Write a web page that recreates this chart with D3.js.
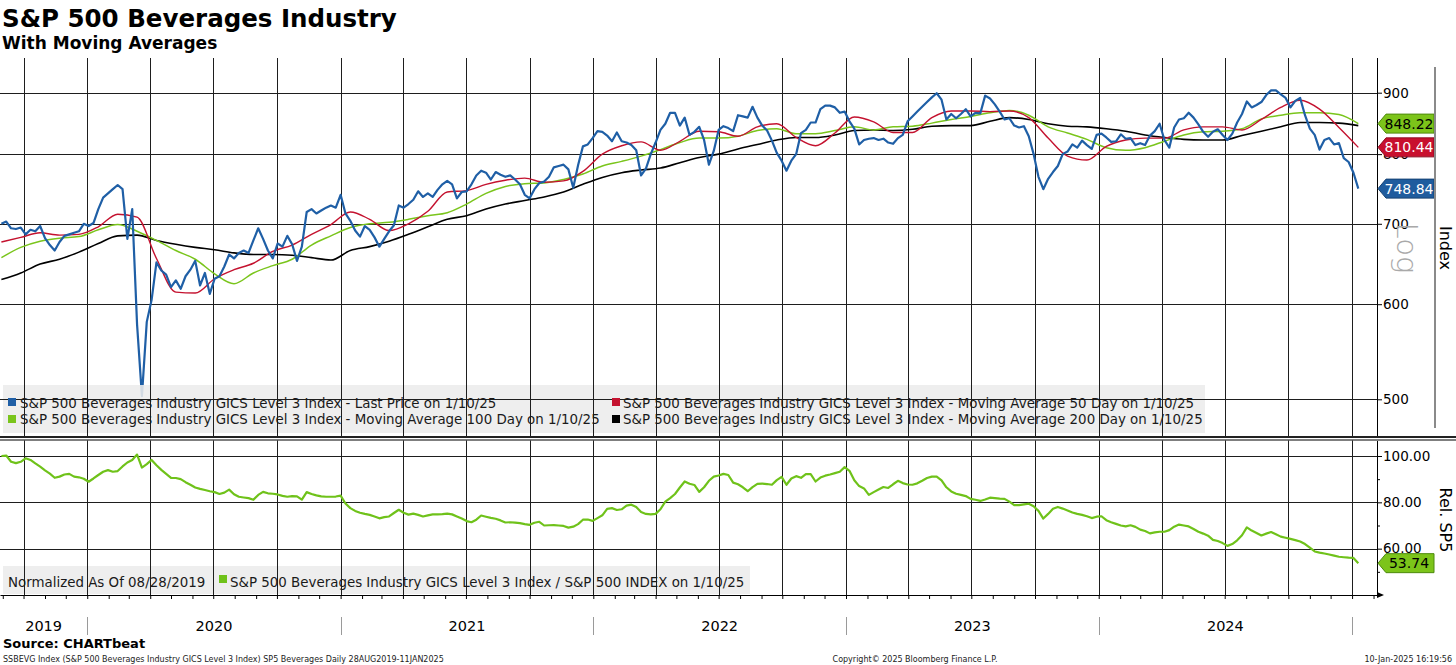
<!DOCTYPE html>
<html lang="en">
<head>
<meta charset="UTF-8">
<title>S&amp;P 500 Beverages Industry</title>
<script src="https://cdn.jsdelivr.net/npm/d3@7"></script>
<style>
  body { margin: 0; background: #fff; }
  svg { display: block; font-family: "DejaVu Sans", Verdana, sans-serif; }
</style>
</head>
<body>
<svg width="1456" height="665"></svg>
<script>
// weekly closes (Fridays) 30 Aug 2019 .. 10 Jan 2025
const price = [
  700,703,694,693,695,686,692,690,697,681,
  672,665,676,684,686,688,690,700,697,701,
  720,736,742,748,754,748,680,720,577,503,
  580,605,650,640,635,620,628,618,633,641,
  652,622,637,612,630,633,645,660,655,662,
  665,662,678,694,680,665,655,674,670,684,
  673,652,670,716,720,714,718,722,725,722,
  740,714,704,691,683,697,692,682,670,680,
  690,698,725,722,727,733,745,737,742,737,
  747,755,760,755,735,744,745,755,768,775,
  772,762,773,769,766,768,762,755,740,735,
  748,757,759,766,780,782,784,777,750,783,
  812,815,825,836,835,829,820,834,820,818,
  814,806,768,778,800,818,838,848,866,866,
  845,858,830,835,843,822,784,805,838,844,
  841,836,862,860,858,876,858,845,837,821,
  802,790,775,790,800,833,838,850,850,872,
  878,878,875,866,868,852,840,815,822,824,
  825,822,824,818,816,825,830,852,860,868,
  876,884,892,899,888,855,864,857,864,872,
  860,866,865,895,890,880,868,855,857,845,
  842,844,828,800,766,748,763,773,782,800,
  804,815,810,821,814,808,830,832,826,819,
  820,831,824,825,814,817,814,829,836,848,
  822,810,842,855,857,866,858,847,835,827,
  835,839,830,822,832,850,864,885,875,879,
  884,896,904,904,897,891,875,886,891,862,
  840,830,807,822,825,815,817,794,788,772,
  748.84
];

// moving averages, every 4th week
const ma50 = [
  676,682,688,685,686,696,713,709,655,614,
  613,630,641,649,664,672,686,699,716,706,
  691,700,717,744,746,755,761,764,758,760,
  774,800,813,819,806,820,836,835,828,843,
  848,826,813,833,859,851,834,834,858,869,
  869,868,869,858,825,797,791,812,822,825,
  825,838,843,843,838,855,875,887,872,842,
  810.44
];
const ma100 = [
  656,669,677,681,683,692,699,690,678,665,
  654,636,624,637,646,654,672,684,695,700,
  702,706,711,715,727,742,752,756,757,762,
  770,782,789,797,807,818,825,825,828,837,
  840,832,832,837,843,838,843,844,849,855,
  860,866,870,862,843,833,823,810,806,810,
  820,830,835,836,840,856,862,866,866,863,
  848.22
];
const ma200 = [
  629,637,648,654,663,674,684,685,678,673,
  669,666,662,660,660,659,656,653,665,670,
  677,686,696,706,711,720,727,732,737,744,
  755,765,772,776,779,787,795,800,808,815,
  822,826,826,830,837,838,837,839,844,845,
  845,852,858,855,848,844,843,840,836,830,
  826,823,822,822,829,836,843,850,850,849,
  845
];

// relative to S&P 500, normalized 28 Aug 2019 = 100, weekly
const relSP5 = [
  100.0,100.2,97.5,96.9,97.5,99.0,98.3,96.8,95.4,93.8,
  92.4,90.6,91.1,92.0,92.3,91.1,90.8,90.2,88.9,90.3,
  91.8,93.2,93.9,93.2,93.5,95.5,97.2,98.3,100.6,95.0,
  96.5,98.3,96.0,94.0,92.3,90.6,90.5,90.0,88.7,87.6,
  86.4,85.8,85.3,84.8,84.4,83.6,84.2,85.5,83.5,82.4,
  82.1,81.8,81.1,83.2,84.5,83.9,83.7,83.4,82.8,82.4,
  82.7,82.6,81.2,84.4,83.6,83.0,82.6,82.4,82.4,82.5,
  82.9,79.5,77.5,76.3,75.5,75.0,74.6,73.9,73.1,73.6,
  73.9,75.4,76.8,75.5,74.7,75.1,74.6,73.9,74.4,74.8,
  74.8,74.9,75.1,74.8,73.9,73.0,71.9,71.4,72.5,74.3,
  73.8,73.3,72.9,72.2,71.3,71.4,71.2,71.0,70.6,70.3,
  71.2,71.6,70.0,70.1,70.2,70.0,69.8,69.1,69.5,70.6,
  72.5,72.6,72.0,73.2,74.4,77.2,77.5,76.7,77.0,78.6,
  79.0,78.0,75.8,75.0,74.8,75.0,77.0,80.3,81.8,83.6,
  86.4,89.0,88.0,87.5,84.5,86.5,89.3,91.1,91.6,92.3,
  91.8,88.5,87.8,86.5,84.8,86.6,88.0,88.1,87.9,87.6,
  89.6,91.0,87.6,90.3,91.3,90.6,92.2,92.2,89.0,90.7,
  91.5,92.0,92.6,93.2,95.2,93.6,89.5,87.0,86.0,83.2,
  84.4,85.5,86.6,86.2,87.8,89.3,88.3,87.7,87.6,88.2,
  89.3,90.5,91.1,91.1,89.5,86.5,84.7,83.7,83.2,82.7,
  81.5,81.1,80.6,81.2,82.0,81.8,81.6,81.5,80.3,78.8,
  78.8,79.1,79.4,78.3,76.3,73.0,75.0,77.2,78.0,77.3,
  76.5,75.6,75.0,74.6,74.0,73.2,73.8,74.0,72.3,71.4,
  70.7,70.0,69.6,70.1,69.4,68.2,67.6,66.6,67.0,67.3,
  67.3,68.0,69.5,70.4,70.0,69.6,68.5,67.3,66.5,65.6,
  63.8,63.3,62.4,61.2,62.0,63.6,65.8,69.2,67.8,66.8,
  65.7,66.5,67.2,66.2,65.2,64.7,64.2,63.7,63.1,62.0,
  60.4,58.8,58.3,57.9,57.5,57.0,56.5,56.3,56.1,56.0,
  53.74
];

const priceTicks = [500, 600, 700, 800, 900];
const relTicks = [60, 80, 100];
const relMinor = [50, 70, 90];

const legendTop = [
  "S&P 500 Beverages Industry GICS Level 3 Index - Last Price on 1/10/25",
  "S&P 500 Beverages Industry GICS Level 3 Index - Moving Average 50 Day on 1/10/25",
  "S&P 500 Beverages Industry GICS Level 3 Index - Moving Average 100 Day on 1/10/25",
  "S&P 500 Beverages Industry GICS Level 3 Index - Moving Average 200 Day on 1/10/25"
];
const legendBot = "S&P 500 Beverages Industry GICS Level 3 Index / S&P 500 INDEX on 1/10/25";

const BLUE = "#1f5fa6", RED = "#c4122f", GREEN = "#7ac51c", BLACK = "#000", RELG = "#6fc21a";

const svg = d3.select("svg");
const plotR = 1377, topY0 = 58, topY1 = 437, botY0 = 440, botY1 = 595;

const x = d3.scaleTime().domain([new Date(2019, 7, 28), new Date(2025, 1, 6)]).range([0, plotR]);
const yTop = d3.scaleLog().domain([500, 900]).range([399.3, 92.7]);
const yBot = d3.scaleLinear().domain([40, 100]).range([botY1, 456]);

const weeks = d3.timeFriday.range(new Date(2019, 7, 30), new Date(2025, 0, 11));
const every4 = weeks.filter((d, i) => i % 4 === 0);

const defs = svg.append("defs");
defs.append("clipPath").attr("id", "clipTop").append("rect")
  .attr("x", 0).attr("y", topY0).attr("width", plotR).attr("height", topY1 - topY0);
defs.append("clipPath").attr("id", "clipBot").append("rect")
  .attr("x", 0).attr("y", botY0).attr("width", plotR).attr("height", botY1 - botY0);

// legend boxes
const legTopBox = {x: 3, y: 385, w: 1202, h: 48};
const legBotBox = {x: 3, y: 566, w: 747, h: 28};
const legClip = defs.append("clipPath").attr("id", "clipLeg");
[legTopBox, legBotBox].forEach(b => legClip.append("rect")
  .attr("x", b.x).attr("y", b.y).attr("width", b.w).attr("height", b.h));

const quarters = d3.timeMonth.every(3).range(x.domain()[0], x.domain()[1]);
const px = v => Math.round(v) + 0.5;

function grid(g) {
  g.selectAll("line.vt").data(quarters).join("line").attr("class", "vt")
    .attr("x1", d => px(x(d))).attr("x2", d => px(x(d)))
    .attr("y1", topY0).attr("y2", topY1);
  g.selectAll("line.vb").data(quarters).join("line").attr("class", "vb")
    .attr("x1", d => px(x(d))).attr("x2", d => px(x(d)))
    .attr("y1", botY0).attr("y2", botY1);
  g.selectAll("line.ht").data(priceTicks).join("line").attr("class", "ht")
    .attr("x1", 0).attr("x2", plotR)
    .attr("y1", d => px(yTop(d))).attr("y2", d => px(yTop(d)));
  g.selectAll("line.hb").data(relTicks).join("line").attr("class", "hb")
    .attr("x1", 0).attr("x2", plotR)
    .attr("y1", d => px(yBot(d))).attr("y2", d => px(yBot(d)));
  g.selectAll("line").attr("stroke", "#1e1e1e").attr("stroke-width", 1);
}

grid(svg.append("g"));

// series
const lineTop = d3.line().x(d => x(d[0])).y(d => yTop(d[1]));
const lineTopSmooth = d3.line().curve(d3.curveMonotoneX).x(d => x(d[0])).y(d => yTop(d[1]));
const lineBot = d3.line().x(d => x(d[0])).y(d => yBot(d[1]));

const gTop = svg.append("g").attr("clip-path", "url(#clipTop)");
const zip = (dates, vals) => vals.map((v, i) => [dates[i], v]);

gTop.append("path").datum(zip(every4, ma200)).attr("d", lineTopSmooth)
  .attr("fill", "none").attr("stroke", BLACK).attr("stroke-width", 1.6);
gTop.append("path").datum(zip(every4, ma100)).attr("d", lineTopSmooth)
  .attr("fill", "none").attr("stroke", GREEN).attr("stroke-width", 1.5);
gTop.append("path").datum(zip(every4, ma50)).attr("d", lineTopSmooth)
  .attr("fill", "none").attr("stroke", RED).attr("stroke-width", 1.4);
gTop.append("path").datum(zip(weeks, price)).attr("d", lineTop)
  .attr("fill", "none").attr("stroke", BLUE).attr("stroke-width", 2.2)
  .attr("stroke-linejoin", "round");

svg.append("g").attr("clip-path", "url(#clipBot)")
  .append("path").datum(zip(weeks, relSP5)).attr("d", lineBot)
  .attr("fill", "none").attr("stroke", RELG).attr("stroke-width", 2.2)
  .attr("stroke-linejoin", "round");

// legend backgrounds, then grid again through them
[legTopBox, legBotBox].forEach(b => svg.append("rect")
  .attr("x", b.x).attr("y", b.y).attr("width", b.w).attr("height", b.h)
  .attr("fill", "#ececec").attr("opacity", 0.88));
grid(svg.append("g").attr("clip-path", "url(#clipLeg)"));

const legCols = [[8, 20], [612, 623]];
const legRows = [[398, 407.5], [415, 424]];
const legColors = [BLUE, RED, GREEN, BLACK];
legendTop.forEach((t, i) => {
  const c = legCols[i % 2], r = legRows[Math.floor(i / 2)];
  svg.append("rect").attr("x", c[0]).attr("y", r[0]).attr("width", 8).attr("height", 8)
    .attr("fill", legColors[i]);
  svg.append("text").attr("x", c[1]).attr("y", r[1]).attr("font-size", 13.4)
    .attr("fill", "#1a1a1a").text(t);
});
svg.append("text").attr("x", 8).attr("y", 586.5).attr("font-size", 13.4)
  .attr("fill", "#1a1a1a").text("Normalized As Of 08/28/2019");
svg.append("rect").attr("x", 219).attr("y", 575).attr("width", 8).attr("height", 8).attr("fill", RELG);
svg.append("text").attr("x", 230).attr("y", 586.5).attr("font-size", 13.4)
  .attr("fill", "#1a1a1a").text(legendBot);

// panel divider
svg.append("line").attr("x1", 0).attr("x2", 1456).attr("y1", 437).attr("y2", 437)
  .attr("stroke", "#222").attr("stroke-width", 2);
svg.append("line").attr("x1", 0).attr("x2", 1456).attr("y1", 440).attr("y2", 440)
  .attr("stroke", "#555").attr("stroke-width", 1.5);

// right axes
svg.append("line").attr("x1", plotR + 0.5).attr("x2", plotR + 0.5).attr("y1", topY0).attr("y2", topY1 - 1)
  .attr("stroke", "#000");
svg.append("line").attr("x1", plotR + 0.5).attr("x2", plotR + 0.5).attr("y1", botY0 + 1).attr("y2", botY1)
  .attr("stroke", "#000");

function styleAxis(g, size) {
  g.select(".domain").remove();
  g.attr("font-family", "DejaVu Sans, sans-serif").attr("font-size", size);
  g.selectAll("text").attr("fill", "#000");
}
svg.append("g").attr("transform", `translate(${plotR},0)`)
  .call(d3.axisRight(yTop).tickValues(priceTicks).tickFormat(d3.format("d"))
    .tickSize(5).tickSizeOuter(0).tickPadding(1))
  .call(g => styleAxis(g, 13.5));
svg.append("g").attr("transform", `translate(${plotR},0)`)
  .call(d3.axisRight(yBot).tickValues(relTicks).tickFormat(d3.format(".2f"))
    .tickSize(5).tickSizeOuter(0).tickPadding(1))
  .call(g => styleAxis(g, 13.5));
svg.append("g").attr("transform", `translate(${plotR},0)`)
  .call(d3.axisRight(yBot).tickValues(relMinor).tickFormat("").tickSize(3).tickSizeOuter(0))
  .call(g => styleAxis(g, 10));

// time axis
svg.append("g").attr("transform", `translate(0,${botY1})`)
  .call(d3.axisBottom(x).ticks(d3.timeMonth.every(1)).tickFormat("").tickSize(4).tickSizeOuter(0))
  .call(g => g.select(".domain").attr("stroke", "#000").attr("stroke-width", 1.2));
svg.append("path").attr("d", `M${plotR},${botY1 - 3}L${plotR + 7},${botY1}L${plotR},${botY1 + 3}Z`)
  .attr("fill", "#000");

const yearStarts = d3.timeYear.range(x.domain()[0], x.domain()[1]);
svg.selectAll("line.ysep").data(yearStarts).join("line").attr("class", "ysep")
  .attr("x1", d => px(x(d))).attr("x2", d => px(x(d)))
  .attr("y1", 617).attr("y2", 635).attr("stroke", "#9a9a9a");
const years = d3.timeYear.range(d3.timeYear.floor(x.domain()[0]), x.domain()[1]);
years.forEach(d => {
  const a = Math.max(0, x(d)), b = Math.min(plotR, x(d3.timeYear.offset(d, 1)));
  if (b - a < 50) return;
  svg.append("text").attr("x", (a + b) / 2).attr("y", 631).attr("text-anchor", "middle")
    .attr("font-size", 14.5).attr("fill", "#000").text(d.getFullYear());
});

// last value tags
function tag(y, label, fill, stroke, color) {
  const g = svg.append("g");
  g.append("path")
    .attr("d", `M${plotR + 1},${y}L${plotR + 9},${y - 9.5}H1434V${y + 9.5}H${plotR + 9}Z`)
    .attr("fill", fill).attr("stroke", stroke).attr("stroke-width", 1);
  g.append("text").attr("x", 1409).attr("y", y).attr("dy", "0.36em").attr("text-anchor", "middle")
    .attr("font-size", 14).attr("fill", color).text(label);
}
const last = a => a[a.length - 1];
const fmt = d3.format(".2f");
tag(yTop(last(ma100)), fmt(last(ma100)), "#7cc41a", "#4d8a0c", "#000");
tag(yTop(last(ma50)), fmt(last(ma50)), "#c8102e", "#8e0b20", "#fff");
tag(yTop(last(price)), fmt(last(price)), "#1f5c9e", "#154273", "#fff");
tag(yBot(last(relSP5)), fmt(last(relSP5)), "#7cc41a", "#4d8a0c", "#000");

// right side labels
svg.append("line").attr("x1", 1435).attr("x2", 1435).attr("y1", 67).attr("y2", 428)
  .attr("stroke", "#8a8a8a").attr("stroke-width", 2);
svg.append("text").attr("transform", "translate(1407,248) rotate(90)")
  .attr("text-anchor", "middle").attr("dominant-baseline", "central")
  .attr("font-size", 29).attr("font-weight", 300).attr("fill", "#a9a9a9").text("Log");
svg.append("text").attr("transform", "translate(1445,248) rotate(90)")
  .attr("text-anchor", "middle").attr("dominant-baseline", "central")
  .attr("font-size", 16).attr("fill", "#000").text("Index");
svg.append("text").attr("transform", "translate(1445,520) rotate(90)")
  .attr("text-anchor", "middle").attr("dominant-baseline", "central")
  .attr("font-size", 16).attr("fill", "#000").text("Rel. SP5");

// titles
svg.append("text").attr("x", 2).attr("y", 27).attr("font-size", 24.5).attr("font-weight", "bold")
  .attr("fill", "#000").text("S&P 500 Beverages Industry");
svg.append("text").attr("x", 2).attr("y", 49).attr("font-size", 17).attr("font-weight", "bold")
  .attr("fill", "#000").text("With Moving Averages");

// footer
svg.append("text").attr("x", 3).attr("y", 648).attr("font-size", 13).attr("font-weight", "bold")
  .attr("fill", "#000").text("Source: CHARTbeat");
svg.append("text").attr("x", 3).attr("y", 662).attr("font-size", 8).attr("fill", "#222")
  .text("SSBEVG Index (S&P 500 Beverages Industry GICS Level 3 Index) SP5 Beverages  Daily 28AUG2019-11JAN2025");
svg.append("text").attr("x", 915).attr("y", 662).attr("font-size", 8).attr("text-anchor", "middle")
  .attr("fill", "#222").text("Copyright\u00A9 2025 Bloomberg Finance L.P.");
svg.append("text").attr("x", 1452).attr("y", 662).attr("font-size", 8).attr("text-anchor", "end")
  .attr("fill", "#222").text("10-Jan-2025 16:19:56");
</script>
</body>
</html>
